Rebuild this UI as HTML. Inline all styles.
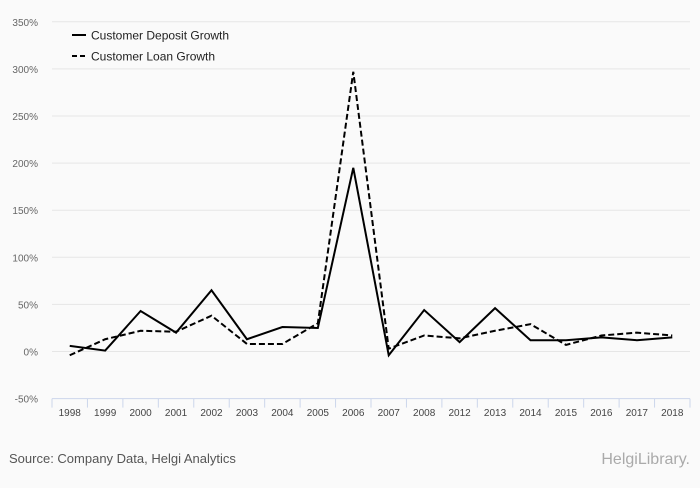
<!DOCTYPE html>
<html><head><meta charset="utf-8"><style>
body{margin:0;background:#fafafa;font-family:"Liberation Sans",sans-serif;}
svg text{font-family:"Liberation Sans",sans-serif;}
</style></head><body>
<svg id="chart" width="700" height="483" xmlns="http://www.w3.org/2000/svg">
<rect width="700" height="483" fill="#fafafa"/>
<g id="grid"></g><g id="xaxis"></g><g id="series"></g>
<g>
<line x1="72" y1="35" x2="86" y2="35" stroke="#000" stroke-width="2"/>
<text x="91" y="39.5" font-size="12" fill="#222">Customer Deposit Growth</text>
<line x1="72" y1="56" x2="86" y2="56" stroke="#000" stroke-width="2" stroke-dasharray="5,3"/>
<text x="91" y="60.5" font-size="12" fill="#222">Customer Loan Growth</text>
</g>
<text x="9" y="463" font-size="13" fill="#555">Source: Company Data, Helgi Analytics</text>
<text x="690" y="464" font-size="16" fill="#aaa" text-anchor="end" font-family="Liberation Serif">HelgiLibrary.</text>
</svg>
<script>
const categories=["1998","1999","2000","2001","2002","2003","2004","2005","2006","2007","2008","2012","2013","2014","2015","2016","2017","2018"];
const depositGrowth=[6,1,43,20,65,13,26,25,195,-4,44,10,46,12,12,15,12,15];
const loanGrowth=[-4,13,22,21,38,8,8,30,297,3,17,14,22,29,7,17,20,17];
const yTicks=[-50,0,50,100,150,200,250,300,350];
const NS="http://www.w3.org/2000/svg";
const L=52,R=690,band=(R-L)/categories.length;
const x=i=>L+band*(i+0.5);
const y=v=>351.5-v*(47.1/50);
function mk(t,a,p){const e=document.createElementNS(NS,t);for(const k in a)e.setAttribute(k,a[k]);p.appendChild(e);return e;}
const grid=document.getElementById('grid');
yTicks.forEach(v=>{
 if(v!==-50){const g=mk('line',{x1:L,x2:R,y1:y(v),y2:y(v),stroke:'#e6e6e6','stroke-width':1},grid);
 
 }
 const t=mk('text',{x:38,y:y(v)+4,'font-size':10,fill:'#666','text-anchor':'end'},grid);t.textContent=v+'%';
 
 
});
const xa=document.getElementById('xaxis');
const ax=mk('line',{x1:L,x2:R,y1:y(-50),y2:y(-50),stroke:'#ccd6eb','stroke-width':1},xa);


for(let i=0;i<=categories.length;i++){const tk=mk('line',{x1:L+band*i,x2:L+band*i,y1:y(-50),y2:y(-50)+9,stroke:'#ccd6eb'},xa);

}
categories.forEach((c,i)=>{const t=mk('text',{x:x(i),y:416,'font-size':10,fill:'#444','text-anchor':'middle'},xa);t.textContent=c;

});
const s=document.getElementById('series');
function line(data,dash,name){const p=mk('path',{d:data.map((v,i)=>(i?'L':'M')+x(i)+' '+y(v)).join(' '),fill:'none',stroke:'#000','stroke-width':2,'stroke-dasharray':dash},s);

}
line(loanGrowth,'6,3','loan-growth-line');
line(depositGrowth,'none','deposit-growth-line');
</script>
</body></html>
